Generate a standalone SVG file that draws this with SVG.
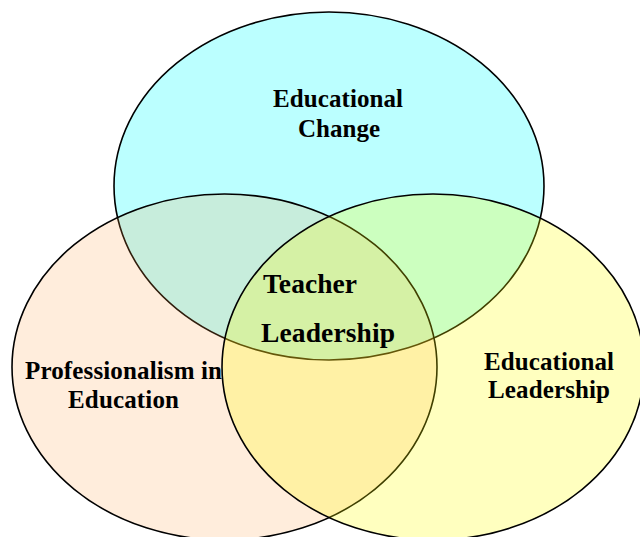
<svg xmlns="http://www.w3.org/2000/svg" width="640" height="537" viewBox="0 0 640 537">
<style>
.shape{stroke:#000;stroke-width:1.6}
.lbl{font-family:"Liberation Serif","Times New Roman",serif;font-weight:bold;font-size:25px;fill:#000}
.big{font-size:27.5px}
</style>
<rect width="640" height="537" fill="#fff"/>
<g id="educational-change">
<ellipse class="shape" cx="329" cy="186" rx="215" ry="174" fill="#bbffff"/>
<text class="lbl" x="338" y="107" text-anchor="middle" textLength="130">Educational</text>
<text class="lbl" x="339" y="137" text-anchor="middle" textLength="82">Change</text>
</g>
<g id="professionalism">
<ellipse class="shape" cx="224.5" cy="367" rx="212.5" ry="173" fill="rgb(255,160,71)" fill-opacity="0.19"/>
<text class="lbl" x="25" y="379" textLength="197">Professionalism in</text>
<text class="lbl" x="68" y="408" textLength="111">Education</text>
</g>
<g id="educational-leadership">
<ellipse class="shape" cx="433" cy="367" rx="211" ry="173" fill="#ffff00" fill-opacity="0.25"/>
<text class="lbl" x="484" y="370" textLength="130">Educational</text>
<text class="lbl" x="488" y="398" textLength="122">Leadership</text>
</g>
<g id="teacher-leadership">
<text class="lbl big" x="263" y="293" textLength="94">Teacher</text>
<text class="lbl big" x="261" y="342" textLength="134">Leadership</text>
</g>
<g id="connectors"/>
</svg>
